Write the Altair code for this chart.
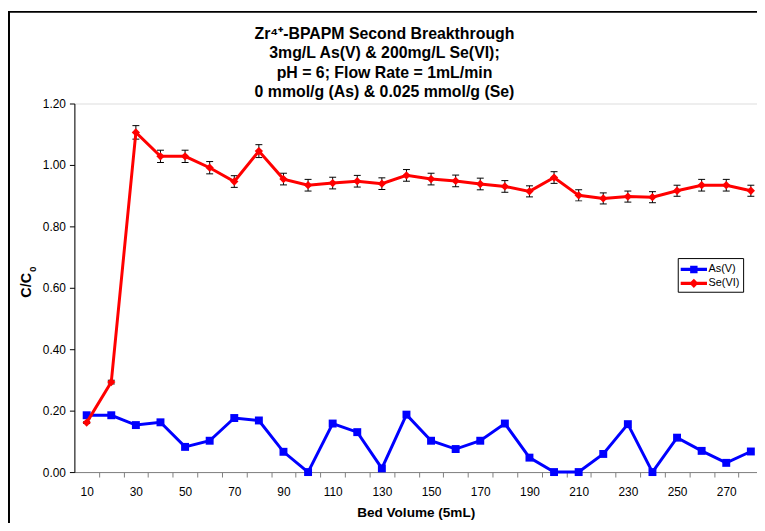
import altair as alt
import pandas as pd

FONT = "Liberation Sans"

bed_volume = [10, 20, 30, 40, 50, 60, 70, 80, 90, 100, 110, 120, 130, 140,
              150, 160, 170, 180, 190, 200, 210, 220, 230, 240, 250, 260, 270, 280]
as_v = [0.185, 0.185, 0.153, 0.162, 0.082, 0.102, 0.176, 0.168, 0.066, 0.0,
        0.158, 0.130, 0.012, 0.187, 0.102, 0.075, 0.102, 0.158, 0.047, 0.0,
        0.0, 0.059, 0.156, 0.0, 0.112, 0.069, 0.030, 0.067]
se_vi = [0.161, 0.293, 1.106, 1.028, 1.028, 0.991, 0.946, 1.045, 0.954, 0.934,
         0.941, 0.947, 0.939, 0.966, 0.954, 0.948, 0.938, 0.930, 0.914, 0.959,
         0.901, 0.891, 0.897, 0.895, 0.916, 0.934, 0.934, 0.916]
se_err = [0.003, 0.006, 0.022, 0.020, 0.020, 0.020, 0.019, 0.021, 0.019, 0.019,
          0.019, 0.019, 0.019, 0.019, 0.019, 0.019, 0.019, 0.019, 0.018, 0.019,
          0.018, 0.018, 0.018, 0.018, 0.018, 0.019, 0.019, 0.018]

series_names = ["As(V)", "Se(VI)"]
series_colors = ["#0000FF", "#FF0000"]
x_tick_values = list(range(10, 281, 5))
y_tick_values = [0.0, 0.2, 0.4, 0.6, 0.8, 1.0, 1.2]
title_lines = [
    "Zr\u2074\u207a-BPAPM Second Breakthrough",
    "3mg/L As(V) & 200mg/L Se(VI);",
    "pH = 6; Flow Rate = 1mL/min",
    "0 mmol/g (As) & 0.025 mmol/g (Se)",
]
y_title_main = "C/C"
y_title_sub = "0"

df_as = pd.DataFrame({"bv": bed_volume, "value": as_v, "series": "As(V)"})
df_se = pd.DataFrame({"bv": bed_volume, "value": se_vi, "err": se_err, "series": "Se(VI)"})
df_all = pd.concat([df_as, df_se[["bv", "value", "series"]]], ignore_index=True)
one = pd.DataFrame({"a": [0]})

x_axis = alt.Axis(
    values=x_tick_values,
    labelExpr="datum.value % 20 == 10 ? datum.label : ''",
    tickOpacity={"condition": {"test": "datum.value % 10 == 5", "value": 1}, "value": 0},
    grid=False, domainColor="#808080", tickColor="#808080", tickSize=5,
    labelFont=FONT, labelFontSize=12, labelColor="black", labelPadding=10,
    labelOverlap=False, labelFlush=False,
    title="Bed Volume (5mL)", titleFont=FONT, titleFontSize=13.7,
    titleFontWeight="bold", titleColor="black", titlePadding=8,
)
x_scale = alt.Scale(domain=[5, 282.5], nice=False, zero=False)

y_axis = alt.Axis(
    values=y_tick_values, format=".2f", grid=False,
    domainColor="black", tickColor="black", tickSize=5,
    labelFont=FONT, labelFontSize=12, labelColor="black", labelPadding=4,
    title=None,
)
y_scale = alt.Scale(domain=[0, 1.2], nice=False)

def X():
    return alt.X("bv:Q", scale=x_scale, axis=x_axis)

def Y(field):
    return alt.Y(field, scale=y_scale, axis=y_axis)

frame = alt.Chart(one).mark_rect(
    fillOpacity=0, stroke="black", strokeWidth=2
).encode(
    x=alt.value(-66), x2=alt.value(1000), y=alt.value(-92.5), y2=alt.value(1000)
)

title_text = alt.Chart(one).mark_text(
    text=title_lines, font=FONT, fontSize=16, fontWeight="bold", color="black",
    align="center", baseline="middle", lineHeight=19.7,
).encode(x=alt.value(313), y=alt.value(-70.5))

ytitle_main = alt.Chart(one).mark_text(
    text=y_title_main, font=FONT, fontSize=14.5, fontWeight="bold", color="black",
    align="left", baseline="middle", angle=270,
).encode(x=alt.value(-48), y=alt.value(196))
ytitle_sub = alt.Chart(one).mark_text(
    text=y_title_sub, font=FONT, fontSize=10, fontWeight="bold", color="black",
    align="left", baseline="middle", angle=270,
).encode(x=alt.value(-42), y=alt.value(170))

se_base = alt.Chart(df_se).transform_calculate(
    lo="datum.value - datum.err", hi="datum.value + datum.err"
)
err_rule = se_base.mark_rule(color="black", strokeWidth=1).encode(
    x=X(), y=Y("lo:Q"), y2="hi:Q"
)
err_cap_lo = se_base.mark_tick(color="black", thickness=1, size=7, orient="horizontal", opacity=1).encode(
    x=X(), y=Y("lo:Q")
)
err_cap_hi = se_base.mark_tick(color="black", thickness=1, size=7, orient="horizontal", opacity=1).encode(
    x=X(), y=Y("hi:Q")
)

as_line = alt.Chart(df_as).mark_line(color="#0000FF", strokeWidth=3).encode(x=X(), y=Y("value:Q"))
as_pts = alt.Chart(df_as).mark_point(shape="square", filled=True, color="#0000FF", size=64, opacity=1).encode(
    x=X(), y=Y("value:Q"))
se_line = alt.Chart(df_se).mark_line(color="#FF0000", strokeWidth=3).encode(x=X(), y=Y("value:Q"))
se_pts = alt.Chart(df_se).mark_point(shape="diamond", filled=True, color="#FF0000", size=70, opacity=1).encode(
    x=X(), y=Y("value:Q"))

path_as = "M-1,-0.19H2.12V0.19H-1Z M0.12,-0.45H1V0.45H0.12Z"
path_se = "M-1,-0.19H2.12V0.19H-1Z M0.56,-0.55L1.1,0L0.56,0.55L0.02,0Z"

legend = alt.Legend(
    title=None, orient="none", legendX=609, legendY=156,
    strokeColor="black", fillColor="white", padding=3, rowPadding=0,
    symbolSize=289, symbolStrokeWidth=0, symbolOpacity=1,
    labelFont=FONT, labelFontSize=11, labelColor="black", labelOffset=11,
    cornerRadius=0,
)
legend_layer = alt.Chart(df_all).transform_filter("false").mark_point(filled=True, opacity=1).encode(
    x=X(), y=Y("value:Q"),
    color=alt.Color("series:N", scale=alt.Scale(domain=series_names, range=series_colors), legend=legend),
    shape=alt.Shape("series:N", scale=alt.Scale(domain=series_names, range=[path_as, path_se]), legend=legend),
)

chart = alt.layer(
    frame, title_text, ytitle_main, ytitle_sub,
    err_rule, err_cap_lo, err_cap_hi, as_line, as_pts, se_line, se_pts, legend_layer
).properties(
    width=689, height=372,
    autosize=alt.AutoSizeParams(type="none"),
    padding={"left": 67, "top": 94, "right": 0, "bottom": 49},
).configure_view(strokeWidth=0).configure(background="white")

chart.save("out.html", embed_options={"renderer": "svg", "actions": False})
